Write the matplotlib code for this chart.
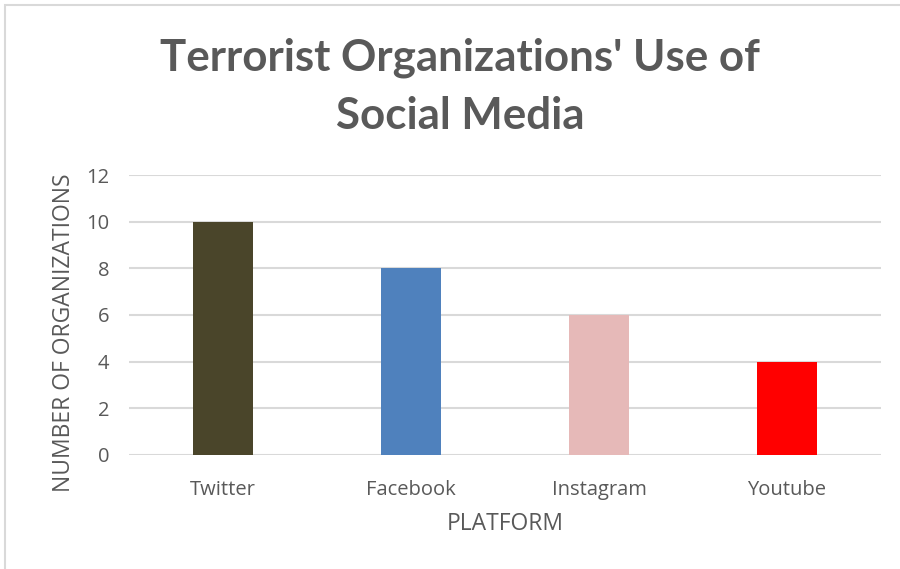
import matplotlib
matplotlib.use("Agg")
import matplotlib.pyplot as plt
from matplotlib.patches import Rectangle

# Data
platforms = ["Twitter", "Facebook", "Instagram", "Youtube"]
counts = [10, 8, 6, 4]
colors = ["#4A452A", "#4F81BD", "#E6B9B8", "#FF0000"]

text_color = "#595959"
grid_color = "#D9D9D9"

plt.rcParams['font.family'] = ['Open Sans', 'DejaVu Sans']

fig = plt.figure(figsize=(9, 5.69), dpi=100)
ax = fig.add_axes([0.1433, 0.2004, 0.8356, 0.492])

# chart border (only top and left visible in the crop)
fig.patches.append(Rectangle((5 / 900, -0.1), 1.2, 1 - 5 / 569 + 0.1,
                             transform=fig.transFigure, fill=False,
                             edgecolor=grid_color, linewidth=1.5))

x = range(len(platforms))
ax.bar(x, counts, width=0.32, color=colors, zorder=3)

ax.set_xlim(-0.5, len(platforms) - 0.5)
ax.set_ylim(0, 12)
ax.set_yticks(range(0, 13, 2))
ax.set_xticks(list(x))
ax.set_xticklabels(platforms)
ax.yaxis.grid(True, color=grid_color, linewidth=1.5, zorder=0)
ax.tick_params(axis='both', length=0, labelsize=14.5, colors=text_color)
ax.tick_params(axis='x', pad=18)
ax.tick_params(axis='y', pad=14)
for s in ax.spines.values():
    s.set_visible(False)

ax.set_xlabel("PLATFORM", fontsize=16.5, color=text_color, labelpad=9)
ax.set_ylabel("NUMBER OF ORGANIZATIONS", fontsize=16.5, color=text_color)
ax.yaxis.set_label_coords(-0.071, 0.436)

fig.text(460 / 900, 1 - 87 / 569, "Terrorist Organizations' Use of\nSocial Media",
         ha='center', va='center', fontsize=31.6, fontweight='bold',
         color=text_color, family=['Lato', 'DejaVu Sans'], linespacing=1.56)

fig.savefig("out.png", dpi=100)
